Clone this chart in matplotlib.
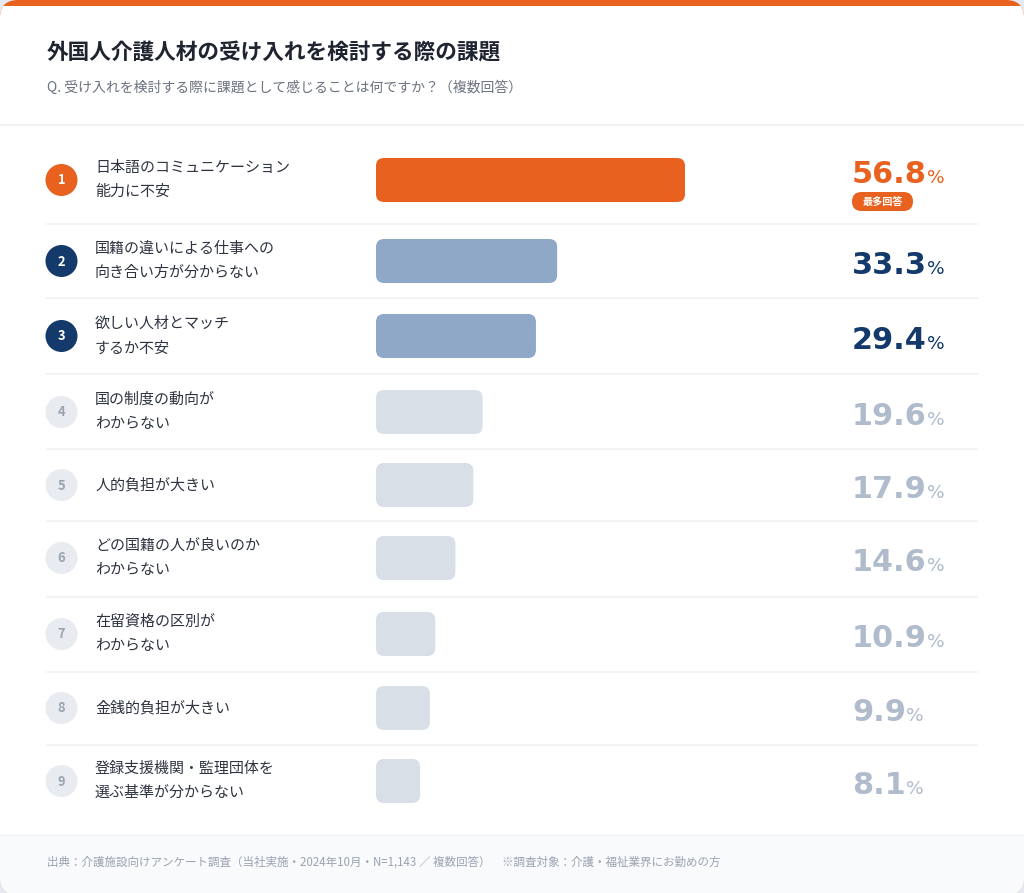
import matplotlib
matplotlib.use("Agg")
import matplotlib.pyplot as plt
from matplotlib.patches import FancyBboxPatch, Circle, Rectangle

plt.rcParams['font.family'] = ['Noto Sans CJK JP', 'DejaVu Sans']

# ---------------- data ----------------
title = "外国人介護人材の受け入れを検討する際の課題"
subtitle = "Q. 受け入れを検討する際に課題として感じることは何ですか？（複数回答）"
ranks = [1, 2, 3, 4, 5, 6, 7, 8, 9]
labels = [
    "日本語のコミュニケーション\n能力に不安",
    "国籍の違いによる仕事への\n向き合い方が分からない",
    "欲しい人材とマッチ\nするか不安",
    "国の制度の動向が\nわからない",
    "人的負担が大きい",
    "どの国籍の人が良いのか\nわからない",
    "在留資格の区別が\nわからない",
    "金銭的負担が大きい",
    "登録支援機関・監理団体を\n選ぶ基準が分からない",
]
values = [56.8, 33.3, 29.4, 19.6, 17.9, 14.6, 10.9, 9.9, 8.1]
top_badge = "最多回答"
footer = "出典：介護施設向けアンケート調査（当社実施・2024年10月・N=1,143 ／ 複数回答）　※調査対象：介護・福祉業界にお勤めの方"

# ---------------- style ----------------
ORANGE = "#E8611F"
NAVY = "#143A6B"
MID_BAR = "#8FA8C8"
LIGHT_BAR = "#D8DFE7"
LIGHT_VAL = "#B0BCCC"
LIGHT_CIRC = "#E8EBEF"
LIGHT_NUM = "#9AA3AF"
OUTER = "#E6EAF0"

W, H = 1024, 893
fig = plt.figure(figsize=(W / 100, H / 100), dpi=100)
fig.patch.set_facecolor(OUTER)
ax = fig.add_axes([0, 0, 1, 1])
ax.set_xlim(0, W)
ax.set_ylim(H, 0)
ax.axis('off')

# card
card = FancyBboxPatch((0, 0), W, H + 2, boxstyle="round,pad=0,rounding_size=18",
                      facecolor=ORANGE, edgecolor='none', zorder=0)
ax.add_patch(card)
body = Rectangle((0, 6), W, H, facecolor='white', edgecolor='none', zorder=0.5)
ax.add_patch(body)
body.set_clip_path(card)
foot_bg = Rectangle((0, 835), W, 80, facecolor="#F8FAFC", edgecolor='none', zorder=0.6)
ax.add_patch(foot_bg)
foot_bg.set_clip_path(card)
ax.plot([0, W], [835, 835], color="#EEF1F5", lw=1, zorder=0.7)

# header
ax.text(47, 53, title, fontsize=15.6, fontweight='bold', color="#1E2430",
        va='center', ha='left')
ax.text(47, 88, subtitle, fontsize=10.0, color="#6B7280", va='center', ha='left')
ax.plot([0, W], [125, 125], color="#EEF0F3", lw=1.2, zorder=1)

# rows layout
row_y = [180, 261, 336, 412, 485, 558, 634, 708, 781]
seps = [224, 298, 374, 449, 521, 597, 672, 745]
for s in seps:
    ax.plot([47, 977], [s, s], color="#EEF0F3", lw=1.1, zorder=1)

def style_for(r):
    if r == 1:
        return ORANGE, 'white', ORANGE, ORANGE
    if r <= 3:
        return NAVY, 'white', MID_BAR, NAVY
    return LIGHT_CIRC, LIGHT_NUM, LIGHT_BAR, LIGHT_VAL

# bar axes: 0..100 % mapped across x = 376..920 px
bx0, bx1 = 376, 920
bax = fig.add_axes([bx0 / W, 0, (bx1 - bx0) / W, 1])
bax.set_xlim(0, 100)
bax.set_ylim(H, 0)
bax.axis('off')
bax.patch.set_alpha(0)
px_per_x = (bx1 - bx0) / 100.0
radius_px = 8
bar_h = 44

for r, lab, v, yc in zip(ranks, labels, values, row_y):
    circ_c, num_c, bar_c, val_c = style_for(r)
    ax.add_patch(Circle((61.5, yc), 16, facecolor=circ_c, edgecolor='none', zorder=2))
    ax.text(61.5, yc + 0.5, str(r), fontsize=9.3, fontweight='bold', color=num_c,
            ha='center', va='center', zorder=3)
    ax.text(95, yc, lab, fontsize=10.8, color="#2D3340", ha='left', va='center',
            linespacing=1.9, zorder=3)
    rs = radius_px / px_per_x
    bar = FancyBboxPatch((0, yc - bar_h / 2), v, bar_h,
                         boxstyle=f"round,pad=0,rounding_size={rs}",
                         mutation_aspect=px_per_x,
                         facecolor=bar_c, edgecolor='none', zorder=2)
    bax.add_patch(bar)
    base = yc + 13 if r != 1 else 183
    num = ax.text(852, base, f"{v:.1f}", fontsize=21.8, fontweight='bold',
                  family='DejaVu Sans', color=val_c, ha='left', va='baseline', zorder=3)
    ax.annotate("%", xy=(1, base), xycoords=(num, 'data'), xytext=(0.2, 0),
                textcoords='offset points', fontsize=13.3, family='DejaVu Sans',
                color=val_c, ha='left', va='baseline', zorder=3)
    if r == 1:
        pill = FancyBboxPatch((852, 192), 61, 19, boxstyle="round,pad=0,rounding_size=9.5",
                              facecolor=ORANGE, edgecolor='none', zorder=2)
        ax.add_patch(pill)
        ax.text(882.5, 201.5, top_badge, fontsize=7.3, fontweight='bold', color='white',
                ha='center', va='center', zorder=3)

ax.text(47, 862, footer, fontsize=8.3, color="#9AA3B0", ha='left', va='center')

fig.savefig("out.png", dpi=100, facecolor=fig.get_facecolor())
